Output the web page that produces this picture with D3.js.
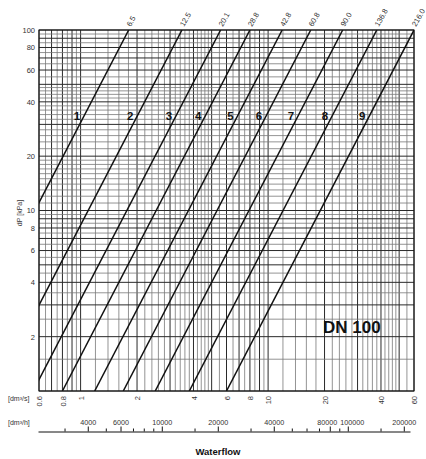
<!DOCTYPE html>
<html>
<head>
<meta charset="utf-8">
<script src="https://cdn.jsdelivr.net/npm/d3@7"></script>
<style>
body { margin: 0; background: #fff; }
svg { display: block; font-family: 'Liberation Sans', Arial, Helvetica, sans-serif; }
</style>
</head>
<body>
<svg id="svg" width="426" height="459"></svg>
<script>
// valve settings and their kvs values (m3/h at 1 bar)
var settings = ["1", "2", "3", "4", "5", "6", "7", "8", "9"];
var kvs = [6.5, 12.5, 20.1, 28.8, 42.8, 60.8, 90.0, 136.8, 216.0];
var kvsLabels = ["6.5", "12.5", "20.1", "28.8", "42.8", "60.8", "90.0", "136.8", "216.0"];

// tick labels
var dpTicks = [2, 4, 6, 8, 10, 20, 40, 60, 80, 100];
var flowTicks = [0.6, 0.8, 1, 2, 4, 6, 8, 10, 20, 40, 60];           // dm3/s
var hourTicks = [4000, 6000, 10000, 20000, 40000, 80000, 100000, 200000];  // dm3/h
var hourMinor = [3000, 5000, 7000, 8000, 9000, 15000, 30000, 50000, 60000, 70000, 90000, 150000];

// grid lines, multipliers inside one decade
var flowGridFirst = [6, 6.5, 7, 7.5, 8, 8.5, 9, 9.5];
var flowGrid = [1, 1.2, 1.4, 1.6, 1.8, 2, 2.2, 2.4, 2.6, 2.8, 3, 3.2, 3.4, 3.6, 3.8, 4, 4.2, 4.4, 4.6, 4.8,
                5, 5.5, 6, 6.5, 7, 7.5, 8, 8.5, 9, 9.5];
var dpGridLow = [1, 1.5, 2, 2.5, 3, 3.5, 4, 4.5, 5, 5.5, 6, 6.5, 7, 7.5, 8, 8.5, 9, 9.5];
var dpGridHigh = [1, 1.1, 1.2, 1.3, 1.4, 1.5, 1.6, 1.7, 1.8, 1.9, 2, 2.2, 2.4, 2.6, 2.8, 3, 3.2, 3.4, 3.6, 3.8,
                  4, 4.2, 4.4, 4.6, 4.8, 5, 5.5, 6, 6.5, 7, 7.5, 8, 8.5, 9, 9.5, 10];

var svg = d3.select("#svg");
var pLeft = 39, pRight = 414, pTop = 30, pBottom = 391;

var x = d3.scaleLog().domain([0.6, 60]).range([pLeft, pRight]);
var xh = d3.scaleLog().domain([2160, 216000]).range([38, 410]);
var y = d3.scaleLog().domain([1, 100]).range([pBottom, pTop]);

var isMajor = function(v) {
    var p = Math.pow(10, Math.floor(Math.log10(v) + 1e-9));
    return Math.abs(v / p - Math.round(v / p)) < 1e-6;
};

//////// GRID //////////
var vLines = flowGridFirst.map(function(m) { return m * 0.1; })
    .concat(flowGrid)
    .concat(flowGrid.filter(function(m) { return m <= 6; }).map(function(m) { return m * 10; }));
var hLines = dpGridLow.concat(dpGridHigh.map(function(m) { return m * 10; }));

var grid = svg.append("g");
grid.selectAll("line.v").data(vLines).enter().append("line")
    .attr("class", "v")
    .attr("x1", function(d) { return x(d); })
    .attr("x2", function(d) { return x(d); })
    .attr("y1", pTop)
    .attr("y2", pBottom)
    .attr("stroke", function(d) { return isMajor(d) ? "#2a2a2a" : "#787878"; })
    .attr("stroke-width", function(d) { return isMajor(d) ? 1 : 0.8; });

grid.selectAll("line.h").data(hLines).enter().append("line")
    .attr("class", "h")
    .attr("x1", pLeft)
    .attr("x2", pRight)
    .attr("y1", function(d) { return y(d); })
    .attr("y2", function(d) { return y(d); })
    .attr("stroke", function(d) { return isMajor(d) ? "#2a2a2a" : "#787878"; })
    .attr("stroke-width", function(d) { return isMajor(d) ? 1 : 0.8; });

svg.append("rect")
    .attr("x", pLeft).attr("y", pTop)
    .attr("width", pRight - pLeft).attr("height", pBottom - pTop)
    .attr("fill", "none").attr("stroke", "#111").attr("stroke-width", 1);

//////// VALVE LINES //////////
svg.append("clipPath").attr("id", "plot")
    .append("rect").attr("x", pLeft).attr("y", pTop)
    .attr("width", pRight - pLeft).attr("height", pBottom - pTop);

// dP [kPa] = 100 * (Q / kvs)^2, Q in m3/h -> dm3/s = Q / 3.6
var flowAt = function(k, dp) { return k * Math.sqrt(dp / 100) / 3.6; };

var line = d3.line()
    .x(function(d) { return x(d[0]); })
    .y(function(d) { return y(d[1]); });

svg.append("g").attr("clip-path", "url(#plot)")
    .selectAll("path").data(kvs).enter().append("path")
    .attr("d", function(k) { return line([[flowAt(k, 1), 1], [flowAt(k, 100), 100]]); })
    .attr("fill", "none")
    .attr("stroke", "#111")
    .attr("stroke-width", 1.5);

// setting numbers
var labelDp = 33.5;
svg.append("g").selectAll("text").data(kvs).enter().append("text")
    .attr("x", function(k) { return x(flowAt(k, labelDp)) - 4; })
    .attr("y", y(labelDp))
    .attr("dy", "0.36em")
    .attr("text-anchor", "end")
    .attr("font-size", 11.5)
    .attr("font-weight", "bold")
    .attr("fill", "#111")
    .text(function(k, i) { return settings[i]; });

// kvs values at the top
svg.append("g").selectAll("text").data(kvs).enter().append("text")
    .attr("transform", function(k) { return "translate(" + (x(flowAt(k, 100)) + 2) + "," + (pTop - 3) + ")rotate(-60)"; })
    .attr("font-size", 7.5)
    .attr("fill", "#333")
    .text(function(k, i) { return kvsLabels[i]; });

///////// AXES ////////////
var yAxis = svg.append("g")
    .attr("transform", "translate(" + pLeft + ",0)")
    .call(d3.axisLeft(y).tickValues(dpTicks).tickSize(0).tickPadding(4).tickFormat(function(d) { return d; }))
    .attr("font-family", null).attr("font-size", 7.5);
yAxis.select(".domain").remove();
yAxis.selectAll("text").attr("fill", "#333");

svg.append("text")
    .attr("transform", "translate(20,213)rotate(-90)")
    .attr("text-anchor", "middle")
    .attr("dy", "0.35em")
    .attr("font-size", 7)
    .attr("fill", "#333")
    .text("dP [kPa]");

// dm3/s labels, rotated
var xAxis = svg.append("g")
    .attr("transform", "translate(0," + pBottom + ")")
    .call(d3.axisBottom(x).tickValues(flowTicks).tickSize(0).tickFormat(function(d) { return d; }))
    .attr("font-family", null).attr("font-size", 7.5);
xAxis.select(".domain").remove();
xAxis.selectAll("text")
    .attr("y", 0).attr("x", -5).attr("dy", "0.35em")
    .attr("transform", "rotate(-90)")
    .style("text-anchor", "end")
    .attr("fill", "#333");

svg.append("text")
    .attr("x", 8).attr("y", 401)
    .attr("font-size", 7).attr("fill", "#333")
    .text("[dm³/s]");

// dm3/h scale
var hAxis = svg.append("g")
    .attr("transform", "translate(0,431.5)")
    .call(d3.axisTop(xh).tickValues(hourTicks).tickSize(5).tickSizeOuter(0).tickPadding(2)
        .tickFormat(function(d) { return d; }))
    .attr("font-family", null).attr("font-size", 7.2);
hAxis.select(".domain").attr("stroke", "#111");
hAxis.selectAll("line").attr("stroke", "#111");
hAxis.selectAll("text").attr("fill", "#333")
    .attr("dx", function(d) { return d === 80000 ? -3 : (d === 100000 ? 4 : 0); });

svg.append("g")
    .attr("transform", "translate(0,431.5)")
    .call(d3.axisTop(xh).tickValues(hourMinor).tickSize(3).tickFormat(""))
    .call(function(g) { g.select(".domain").remove(); })
    .selectAll("line").attr("stroke", "#111");

svg.append("text")
    .attr("x", 8).attr("y", 425)
    .attr("font-size", 7).attr("fill", "#333")
    .text("[dm³/h]");

svg.append("text")
    .attr("x", 218).attr("y", 455)
    .attr("text-anchor", "middle")
    .attr("font-size", 9.5)
    .attr("font-weight", "bold")
    .attr("fill", "#111")
    .text("Waterflow");

svg.append("text")
    .attr("x", 323).attr("y", 333)
    .attr("font-size", 17)
    .attr("font-weight", "bold")
    .attr("fill", "#111")
    .text("DN 100");
</script>
</body>
</html>
